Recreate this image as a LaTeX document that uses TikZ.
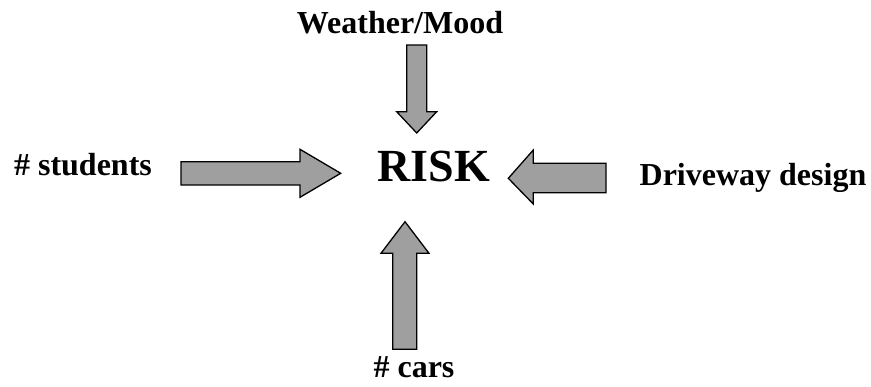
\documentclass[tikz,border=0pt]{standalone}
\usepackage{fontspec}
\setmainfont{Liberation Serif}
\begin{document}
\begin{tikzpicture}[x=1pt,y=-1pt,
  lbl/.style={anchor=base,inner sep=0pt,font=\bfseries\fontsize{32}{38}\selectfont},
  big/.style={anchor=base,inner sep=0pt,font=\bfseries\fontsize{46}{54}\selectfont},
  blockarrow/.style={draw=black,fill=gray!75,line width=1.3pt,line join=miter}]
\useasboundingbox (0,0) rectangle (871,386);
\node[lbl] (weather) at (400,33) {Weather/Mood};
\node[big] (risk) at (434,181.7) {RISK};
\node[lbl] (students) at (83,175) {\# students};
\node[lbl] (driveway) at (753,185) {Driveway design};
\node[lbl] (cars) at (414,377) {\# cars};
% top arrow (down)
\draw[blockarrow] (406.7,45) -- (426.7,45) -- (426.7,111.7) -- (436.7,111.7) -- (416.7,133) -- (396.7,111.7) -- (406.7,111.7) -- cycle;
% left arrow (right)
\draw[blockarrow] (181,161.7) -- (300,161.7) -- (300,149.3) -- (340.7,173.3) -- (300,197.3) -- (300,185) -- (181,185) -- cycle;
% bottom arrow (up)
\draw[blockarrow] (392.7,349.3) -- (392.7,253.3) -- (381,253.3) -- (405,221.7) -- (429,253.3) -- (416.7,253.3) -- (416.7,349.3) -- cycle;
% right arrow (left)
\draw[blockarrow] (606,163.3) -- (533.3,163.3) -- (533.3,150) -- (508.3,178.3) -- (533.3,204) -- (533.3,192.7) -- (606,192.7) -- cycle;
\end{tikzpicture}
\end{document}
